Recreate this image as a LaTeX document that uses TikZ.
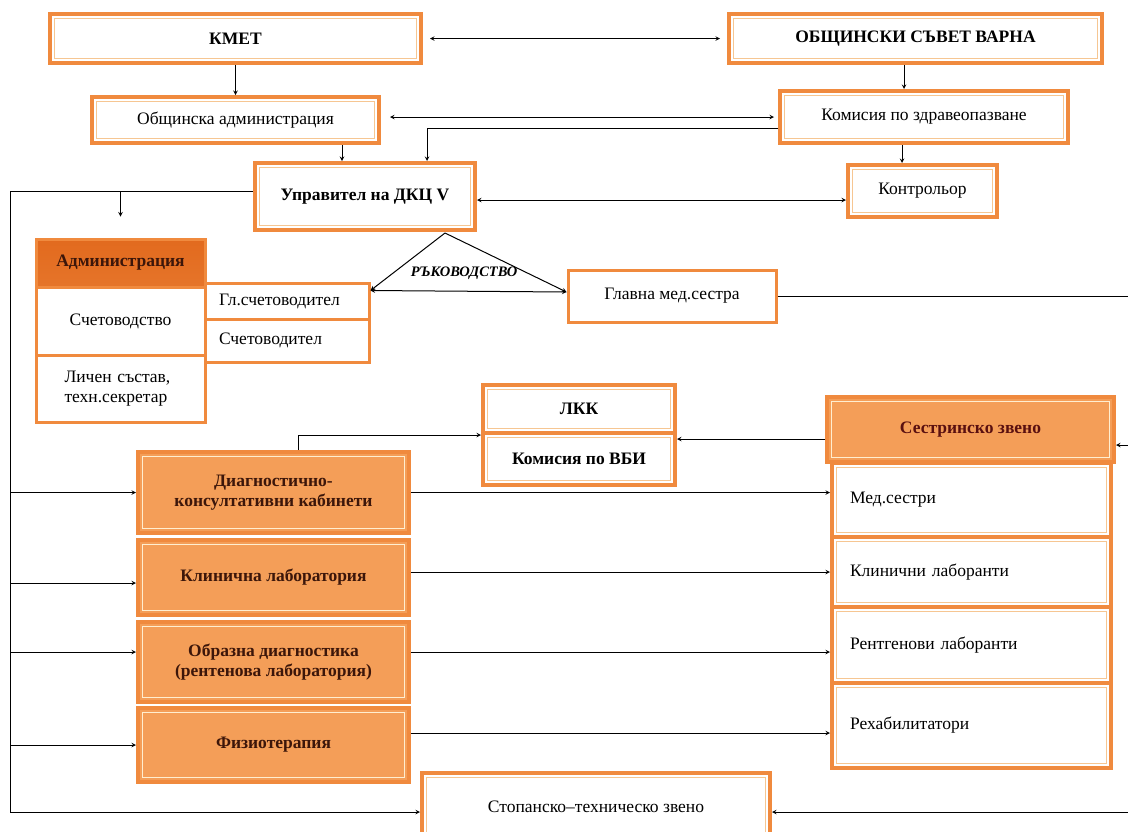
\documentclass[tikz,border=0pt]{standalone}
\usepackage{fontspec}
\setmainfont{Liberation Serif}
\usepackage{xcolor}
\usepackage{tikz}
\usetikzlibrary{calc}

\definecolor{rimO}{RGB}{240,138,62}
\definecolor{fillO}{RGB}{244,158,88}
\definecolor{darkO}{RGB}{226,106,30}
\definecolor{lineO}{RGB}{246,198,146}
\definecolor{creamO}{RGB}{255,238,208}
\definecolor{brownT}{RGB}{60,22,10}
\definecolor{redT}{RGB}{90,16,16}

\newcommand{\dkcsize}{\fontsize{17.5}{20.5}\selectfont}

\tikzset{
	inrim/.style={path picture={\draw[#1, line width=1.1pt] ([shift={(4.5pt,-4.5pt)}]path picture bounding box.north west) rectangle ([shift={(-4.5pt,4.5pt)}]path picture bounding box.south east);}},
	wbox/.style={draw=rimO, line width=4pt, fill=white, inrim=lineO},
	obox/.style={draw=rimO, line width=4pt, fill=fillO, inrim=creamO, font=\dkcsize\bfseries, text=brownT},
	sbox/.style={draw=rimO, line width=3pt, fill=white},
}

\begin{document}
\begin{tikzpicture}[x=1pt, y=-1pt, font=\dkcsize, line width=1pt]
			\useasboundingbox (0,0) rectangle (1128,831);
			\clip (0,0) rectangle (1128,831);

			\node[wbox, minimum width=371pt, minimum height=49pt, font=\dkcsize\bfseries] (kmet) at (235.5,38.5) {КМЕТ};
			\node[wbox, minimum width=373pt, minimum height=49pt, font=\dkcsize\bfseries] (savet) at (915.5,38.5) {ОБЩИНСКИ СЪВЕТ ВАРНА};
			\node[wbox, minimum width=287pt, minimum height=46pt] (obadm) at (235.5,120) {Общинска администрация};
			\node[wbox, minimum width=288pt, minimum height=52pt] (komzdr) at (924,117) {Комисия по здравеопазване};
			\node[wbox, minimum width=220pt, minimum height=67pt, font=\dkcsize\bfseries] (upr) at (365,196.5) {Управител на ДКЦ V};
			\node[wbox, minimum width=149pt, minimum height=52pt] (kontr) at (922.5,191) {Контрольор};

			\node[draw=rimO, line width=3pt, top color=darkO, bottom color=darkO!80!fillO, minimum width=169pt, minimum height=48pt, font=\dkcsize\bfseries, text=brownT] (admhead) at (120.5,263) {Администрация};
			\node[sbox, minimum width=169pt, minimum height=68pt] (schet) at (120.5,321) {Счетоводство};
			\node[sbox, minimum width=169pt, minimum height=67pt, text width=112pt, align=left] (lichen) at (120.5,388.5) {Личен състав,\\техн.секретар};
			\node[sbox, minimum width=164pt, minimum height=36pt, text width=136pt, align=left] (glsch) at (287,301) {Гл.счетоводител};
			\node[sbox, minimum width=164pt, minimum height=43pt, text width=136pt, align=left] (sch) at (287,340.5) {Счетоводител};
			\node[sbox, minimum width=208pt, minimum height=52pt] (glms) at (672,296) {Главна мед.сестра};
			\node[font=\fontsize{14.5}{16}\selectfont\bfseries\itshape] (ruk) at (464,273) {РЪКОВОДСТВО};

			\node[wbox, minimum width=192pt, minimum height=48pt, font=\dkcsize\bfseries] (lkk) at (579,409) {ЛКК};
			\node[wbox, minimum width=192pt, minimum height=52pt, font=\dkcsize\bfseries] (vbi) at (579,459) {Комисия по ВБИ};
			\node[obox, minimum width=287pt, minimum height=65pt, text=redT] (sestr) at (970.5,429.5) {Сестринско звено};

			\node[obox, minimum width=271pt, minimum height=81pt, align=center] (diag) at (273.5,492.5) {Диагностично-\\консултативни кабинети};
			\node[obox, minimum width=271pt, minimum height=75pt] (klin) at (273.5,577.5) {Клинична лаборатория};
			\node[obox, minimum width=271pt, minimum height=80pt, align=center] (obraz) at (273.5,662) {Образна диагностика\\(рентенова лаборатория)};
			\node[obox, minimum width=271pt, minimum height=74pt] (fizio) at (273.5,745) {Физиотерапия};

			\node[wbox, minimum width=279pt, minimum height=74pt, text width=243pt, align=left] (medsestri) at (971.5,500) {Мед.сестри};
			\node[wbox, minimum width=279pt, minimum height=70pt, text width=243pt, align=left] (klinlab) at (971.5,572) {Клинични лаборанти};
			\node[wbox, minimum width=279pt, minimum height=76pt, text width=243pt, align=left] (rentlab) at (971.5,645) {Рентгенови лаборанти};
			\node[wbox, minimum width=279pt, minimum height=85pt, text width=243pt, align=left] (rehab) at (971.5,725.5) {Рехабилитатори};

			\node[wbox, minimum width=348pt, minimum height=68pt] (stop) at (596,807) {Стопанско–техническо звено};

			\coordinate (trunkT) at (10,191);
			\coordinate (trunkB) at (10,812);
			\coordinate (rgt) at (1140,0);
			\coordinate (apex) at (445,233);
			\coordinate (lkkin) at ([yshift=-4pt]lkk.south east);

			\begin{scope}[stealth-stealth]
				\draw[shorten <=7pt, shorten >=7pt] (kmet) -- (savet);
				\draw[shorten <=9pt, shorten >=4pt] ([yshift=3pt]obadm.east) -- ([yshift=3pt]obadm.east -| komzdr.west);
				\draw ([yshift=-3.5pt]upr.east) -- ([yshift=-3.5pt]upr.east -| kontr.west);
				\draw ([yshift=-9pt]glsch.north east) -- ([yshift=4pt]glms.west);
			\end{scope}

			\begin{scope}[-stealth]
				\draw (kmet) -- (obadm);
				\draw ([xshift=-11.5pt]savet.south) -- ([xshift=-11.5pt]savet.south |- komzdr.north);
				\draw ([xshift=106.5pt]obadm.south) -- ([xshift=106.5pt]obadm.south |- upr.north);
				\draw ([yshift=-11pt]komzdr.west) -| ([xshift=62pt]upr.north);
				\draw ([xshift=-22pt]komzdr.south) -- ([xshift=-22pt]komzdr.south |- kontr.north);

				\draw (upr.west |- trunkT) -- (trunkT) -- (trunkB) -- (trunkB -| stop.west);
				\draw[shorten >=21pt] (admhead.north |- trunkT) -- (admhead.north);

				\draw (apex) -- ([yshift=-9pt]glsch.north east);
				\draw (apex) -- ([yshift=4pt]glms.west);

				\draw ([xshift=24.5pt]diag.north) |- (lkk.south west);
				\draw (sestr.west |- lkkin) -- (lkkin);
				\draw (glms.east) -- (glms.east -| rgt) |- ([yshift=-15.5pt]sestr.east);
				\draw (trunkB -| rgt) -- (trunkB -| stop.east);

				\foreach \b/\dl/\dr/\t in {diag/0/0/medsestri, klin/-5.5/5.5/klinlab, obraz/10/10/rentlab, fizio/0/12/rehab}{
					\draw ([yshift=\dl pt]\b.west -| trunkT) -- ([yshift=\dl pt]\b.west);
					\draw ([yshift=\dr pt]\b.east) -- ([yshift=\dr pt]\b.east -| \t.west);
				}
			\end{scope}
		\end{tikzpicture}
\end{document}
